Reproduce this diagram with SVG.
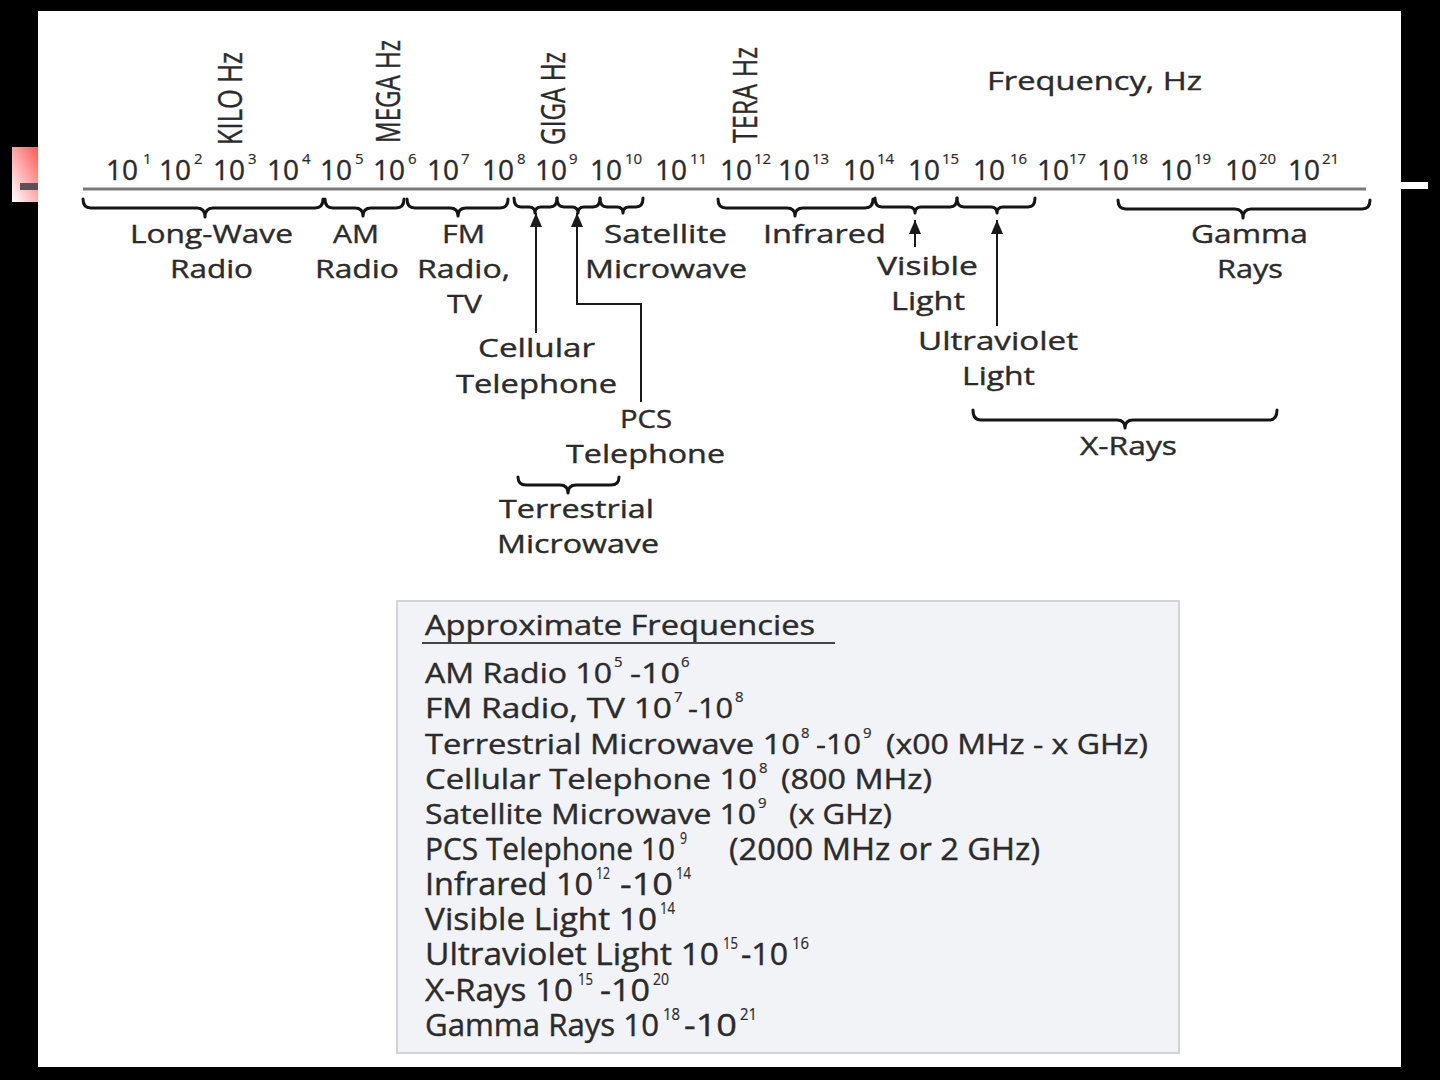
<svg xmlns="http://www.w3.org/2000/svg" width="1440" height="1080" viewBox="0 0 1440 1080">
<defs>
<linearGradient id="redg" x1="1" y1="0" x2="0" y2="1">
<stop offset="0" stop-color="#ff4d4d"/>
<stop offset="1" stop-color="#ffffff"/>
</linearGradient>
<marker id="ah" viewBox="0 0 14 12" markerWidth="14" markerHeight="12" refX="14" refY="6" orient="auto" markerUnits="userSpaceOnUse">
<path d="M0,0 L14,6 L0,12 z" fill="#1a1a1a"/>
</marker>
<style>
text{font-family:"Open Sans","Noto Sans","DejaVu Sans",sans-serif;fill:#2b2b2b;stroke:#2b2b2b;stroke-width:0.4}
.tk{font-size:28px}
.sp{font-size:15px;stroke-width:0.2}
.lb{font-size:26px}
.rot{font-size:33px}
.lg{font-size:28px}
.lgs{font-size:15px;stroke-width:0.2}
.cd{font-size:31px}
.cds{font-size:16px;stroke-width:0.2}
.brace{fill:none;stroke:#151515;stroke-width:3;stroke-linejoin:round;stroke-linecap:round}
.conn{fill:none;stroke:#1a1a1a;stroke-width:2}
</style>
</defs>
<rect x="0" y="0" width="1440" height="1080" fill="#000"/>
<rect x="12" y="147" width="30" height="55" fill="url(#redg)"/>
<rect x="20" y="183" width="20" height="7" fill="#555"/>
<rect x="38" y="11" width="1363" height="1056" fill="#fff"/>
<rect x="1401" y="182" width="27" height="7" fill="#fff"/>

<g id="axis">
<line x1="83" y1="189" x2="1366" y2="189" stroke="#7a7a7a" stroke-width="3"/>
</g>

<g id="ticks">
<text class="tk" x="106" y="180">10<tspan class="sp" x="143" y="164">1</tspan></text>
<text class="tk" x="159" y="180">10<tspan class="sp" x="194" y="164">2</tspan></text>
<text class="tk" x="213" y="180">10<tspan class="sp" x="248" y="164">3</tspan></text>
<text class="tk" x="267" y="180">10<tspan class="sp" x="302" y="164">4</tspan></text>
<text class="tk" x="320" y="180">10<tspan class="sp" x="355" y="164">5</tspan></text>
<text class="tk" x="373" y="180">10<tspan class="sp" x="408" y="164">6</tspan></text>
<text class="tk" x="427" y="180">10<tspan class="sp" x="461" y="164">7</tspan></text>
<text class="tk" x="482" y="180">10<tspan class="sp" x="517" y="164">8</tspan></text>
<text class="tk" x="535" y="180">10<tspan class="sp" x="569" y="164">9</tspan></text>
<text class="tk" x="590" y="180">10<tspan class="sp" x="625" y="164">10</tspan></text>
<text class="tk" x="655" y="180">10<tspan class="sp" x="690" y="164">11</tspan></text>
<text class="tk" x="720" y="180">10<tspan class="sp" x="754" y="164">12</tspan></text>
<text class="tk" x="778" y="180">10<tspan class="sp" x="812" y="164">13</tspan></text>
<text class="tk" x="843" y="180">10<tspan class="sp" x="877" y="164">14</tspan></text>
<text class="tk" x="908" y="180">10<tspan class="sp" x="942" y="164">15</tspan></text>
<text class="tk" x="973" y="180">10<tspan class="sp" x="1010" y="164">16</tspan></text>
<text class="tk" x="1037" y="180">10<tspan class="sp" x="1069" y="164">17</tspan></text>
<text class="tk" x="1097" y="180">10<tspan class="sp" x="1131" y="164">18</tspan></text>
<text class="tk" x="1160" y="180">10<tspan class="sp" x="1194" y="164">19</tspan></text>
<text class="tk" x="1225" y="180">10<tspan class="sp" x="1259" y="164">20</tspan></text>
<text class="tk" x="1288" y="180">10<tspan class="sp" x="1322" y="164">21</tspan></text>
</g>

<g id="units">
<text class="rot" transform="translate(242,145) rotate(-90)" textLength="93" lengthAdjust="spacingAndGlyphs">KILO Hz</text>
<text class="rot" transform="translate(400,143) rotate(-90)" textLength="103" lengthAdjust="spacingAndGlyphs">MEGA Hz</text>
<text class="rot" transform="translate(565,145) rotate(-90)" textLength="93" lengthAdjust="spacingAndGlyphs">GIGA Hz</text>
<text class="rot" transform="translate(757,143) rotate(-90)" textLength="96" lengthAdjust="spacingAndGlyphs">TERA Hz</text>
<text class="lb" x="987" y="90" textLength="215" lengthAdjust="spacingAndGlyphs">Frequency, Hz</text>
</g>

<g id="long-wave">
<path class="brace" d="M83,199 Q83,208 91,208 L197,208 Q205,208 205,217 Q205,208 213,208 L315,208 Q323,208 323,199"/>
<text class="lb" x="130" y="243" textLength="163" lengthAdjust="spacingAndGlyphs">Long-Wave</text>
<text class="lb" x="170" y="278" textLength="83" lengthAdjust="spacingAndGlyphs">Radio</text>
</g>
<g id="am-radio">
<path class="brace" d="M325,199 Q325,208 333,208 L355,208 Q363,208 363,216 Q363,208 371,208 L396,208 Q404,208 404,199"/>
<text class="lb" x="333" y="243" textLength="46" lengthAdjust="spacingAndGlyphs">AM</text>
<text class="lb" x="315" y="278" textLength="84" lengthAdjust="spacingAndGlyphs">Radio</text>
</g>
<g id="fm-radio">
<path class="brace" d="M407,199 Q407,208 415,208 L450,208 Q458,208 458,216 Q458,208 466,208 L500,208 Q508,208 508,199"/>
<text class="lb" x="442" y="243" textLength="43" lengthAdjust="spacingAndGlyphs">FM</text>
<text class="lb" x="417" y="278" textLength="93" lengthAdjust="spacingAndGlyphs">Radio,</text>
<text class="lb" x="447" y="313" textLength="35" lengthAdjust="spacingAndGlyphs">TV</text>
</g>
<g id="giga-braces">
<path class="brace" d="M514,198 Q514,207 521,207 L529,207 Q535,207 535,213 Q535,207 541,207 L550,207 Q557,207 557,198"/>
<path class="brace" d="M557,198 Q557,207 564,207 L572,207 Q578,207 578,213 Q578,207 584,207 L593,207 Q600,207 600,198"/>
<path class="brace" d="M600,198 Q600,207 607,207 L617,207 Q623,207 623,213 Q623,207 629,207 L636,207 Q643,207 643,198"/>
</g>
<g id="satellite-microwave">
<text class="lb" x="604" y="243" textLength="123" lengthAdjust="spacingAndGlyphs">Satellite</text>
<text class="lb" x="585" y="278" textLength="162" lengthAdjust="spacingAndGlyphs">Microwave</text>
</g>
<g id="cellular-telephone">
<text class="lb" x="478" y="357" textLength="117" lengthAdjust="spacingAndGlyphs">Cellular</text>
<text class="lb" x="456" y="393" textLength="161" lengthAdjust="spacingAndGlyphs">Telephone</text>
</g>
<g id="pcs-telephone">
<text class="lb" x="620" y="428" textLength="52" lengthAdjust="spacingAndGlyphs">PCS</text>
<text class="lb" x="566" y="463" textLength="159" lengthAdjust="spacingAndGlyphs">Telephone</text>
</g>
<g id="terrestrial-microwave">
<path class="brace" d="M518,477 Q518,485 526,485 L560,485 Q568,485 568,493 Q568,485 576,485 L611,485 Q619,485 619,477"/>
<text class="lb" x="499" y="518" textLength="155" lengthAdjust="spacingAndGlyphs">Terrestrial</text>
<text class="lb" x="497" y="553" textLength="162" lengthAdjust="spacingAndGlyphs">Microwave</text>
</g>
<g id="infrared">
<path class="brace" d="M718,199 Q718,208 726,208 L787,208 Q795,208 795,216 Q795,208 803,208 L865,208 Q873,208 873,199"/>
<text class="lb" x="763" y="243" textLength="123" lengthAdjust="spacingAndGlyphs">Infrared</text>
</g>
<g id="visible-light">
<path class="brace" d="M875,198 Q875,207 882,207 L909,207 Q915,207 915,213 Q915,207 921,207 L950,207 Q957,207 957,198"/>
<text class="lb" x="877" y="275" textLength="101" lengthAdjust="spacingAndGlyphs">Visible</text>
<text class="lb" x="891" y="310" textLength="74" lengthAdjust="spacingAndGlyphs">Light</text>
</g>
<g id="ultraviolet-light">
<path class="brace" d="M957,198 Q957,207 964,207 L991,207 Q997,207 997,213 Q997,207 1003,207 L1028,207 Q1035,207 1035,198"/>
<text class="lb" x="918" y="350" textLength="160" lengthAdjust="spacingAndGlyphs">Ultraviolet</text>
<text class="lb" x="962" y="385" textLength="73" lengthAdjust="spacingAndGlyphs">Light</text>
</g>
<g id="x-rays">
<path class="brace" d="M973,410 Q973,420 981,420 L1117,420 Q1125,420 1125,428 Q1125,420 1133,420 L1269,420 Q1277,420 1277,410"/>
<text class="lb" x="1080" y="455" textLength="97" lengthAdjust="spacingAndGlyphs">X-Rays</text>
</g>
<g id="gamma-rays">
<path class="brace" d="M1118,200 Q1118,209 1126,209 L1235,209 Q1243,209 1243,218 Q1243,209 1251,209 L1362,209 Q1370,209 1370,200"/>
<text class="lb" x="1191" y="243" textLength="117" lengthAdjust="spacingAndGlyphs">Gamma</text>
<text class="lb" x="1217" y="278" textLength="66" lengthAdjust="spacingAndGlyphs">Rays</text>
</g>

<g id="connectors">
<path class="conn" d="M536,333 L536,213" marker-end="url(#ah)"/>
<path class="conn" d="M641,402 L641,304 L577,304 L577,213" marker-end="url(#ah)"/>
<path class="conn" d="M915,247 L915,220" marker-end="url(#ah)"/>
<path class="conn" d="M997,326 L997,220" marker-end="url(#ah)"/>
</g>

<g id="legend">
<rect x="397" y="601" width="782" height="452" fill="#f2f3f7" stroke="#d3d4d8" stroke-width="2"/>
<text class="lg" x="425" y="635" textLength="390" lengthAdjust="spacingAndGlyphs">Approximate Frequencies</text>
<line x1="422" y1="643" x2="835" y2="643" stroke="#444" stroke-width="2"/>

<text class="lg" x="425" y="683" textLength="187" lengthAdjust="spacingAndGlyphs">AM Radio 10</text>
<text class="lgs" x="614" y="667">5</text>
<text class="lg" x="630" y="683" textLength="50" lengthAdjust="spacingAndGlyphs">-10</text>
<text class="lgs" x="681" y="667">6</text>

<text class="lg" x="425" y="718" textLength="247" lengthAdjust="spacingAndGlyphs">FM Radio, TV 10</text>
<text class="lgs" x="674" y="702">7</text>
<text class="lg" x="688" y="718" textLength="45" lengthAdjust="spacingAndGlyphs">-10</text>
<text class="lgs" x="735" y="702">8</text>

<text class="lg" x="425" y="754" textLength="375" lengthAdjust="spacingAndGlyphs">Terrestrial Microwave 10</text>
<text class="lgs" x="801" y="738">8</text>
<text class="lg" x="816" y="754" textLength="45" lengthAdjust="spacingAndGlyphs">-10</text>
<text class="lgs" x="863" y="738">9</text>
<text class="lg" x="886" y="754" textLength="262" lengthAdjust="spacingAndGlyphs">(x00 MHz - x GHz)</text>

<text class="lg" x="425" y="789" textLength="332" lengthAdjust="spacingAndGlyphs">Cellular Telephone 10</text>
<text class="lgs" x="759" y="773">8</text>
<text class="lg" x="781" y="789" textLength="151" lengthAdjust="spacingAndGlyphs">(800 MHz)</text>

<text class="lg" x="425" y="824" textLength="331" lengthAdjust="spacingAndGlyphs">Satellite Microwave 10</text>
<text class="lgs" x="758" y="808">9</text>
<text class="lg" x="789" y="824" textLength="103" lengthAdjust="spacingAndGlyphs">(x GHz)</text>

<text class="cd" x="425" y="860" textLength="250" lengthAdjust="spacingAndGlyphs">PCS Telephone 10</text>
<text class="cds" x="680" y="844" textLength="7" lengthAdjust="spacingAndGlyphs">9</text>
<text class="cd" x="729" y="860" textLength="311" lengthAdjust="spacingAndGlyphs">(2000 MHz or 2 GHz)</text>

<text class="cd" x="425" y="895" textLength="168" lengthAdjust="spacingAndGlyphs">Infrared 10</text>
<text class="cds" x="596" y="879" textLength="14" lengthAdjust="spacingAndGlyphs">12</text>
<text class="cd" x="620" y="895" textLength="53" lengthAdjust="spacingAndGlyphs">-10</text>
<text class="cds" x="676" y="879" textLength="15" lengthAdjust="spacingAndGlyphs">14</text>

<text class="cd" x="425" y="930" textLength="232" lengthAdjust="spacingAndGlyphs">Visible Light 10</text>
<text class="cds" x="660" y="914" textLength="15" lengthAdjust="spacingAndGlyphs">14</text>

<text class="cd" x="425" y="965" textLength="294" lengthAdjust="spacingAndGlyphs">Ultraviolet Light 10</text>
<text class="cds" x="723" y="949" textLength="15" lengthAdjust="spacingAndGlyphs">15</text>
<text class="cd" x="741" y="965" textLength="47" lengthAdjust="spacingAndGlyphs">-10</text>
<text class="cds" x="792" y="949" textLength="17" lengthAdjust="spacingAndGlyphs">16</text>

<text class="cd" x="425" y="1001" textLength="148" lengthAdjust="spacingAndGlyphs">X-Rays 10</text>
<text class="cds" x="578" y="985" textLength="15" lengthAdjust="spacingAndGlyphs">15</text>
<text class="cd" x="600" y="1001" textLength="50" lengthAdjust="spacingAndGlyphs">-10</text>
<text class="cds" x="653" y="985" textLength="16" lengthAdjust="spacingAndGlyphs">20</text>

<text class="cd" x="425" y="1036" textLength="234" lengthAdjust="spacingAndGlyphs">Gamma Rays 10</text>
<text class="cds" x="663" y="1020" textLength="17" lengthAdjust="spacingAndGlyphs">18</text>
<text class="cd" x="684" y="1036" textLength="53" lengthAdjust="spacingAndGlyphs">-10</text>
<text class="cds" x="740" y="1020" textLength="17" lengthAdjust="spacingAndGlyphs">21</text>
</g>
</svg>
